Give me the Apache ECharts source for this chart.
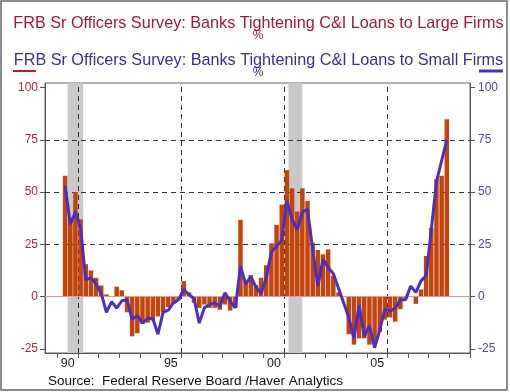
<!DOCTYPE html>
<html><head><meta charset="utf-8">
<script src="https://cdn.jsdelivr.net/npm/echarts@6/dist/echarts.min.js"></script>
<style>html,body{margin:0;padding:0;background:#fff}#c{width:510px;height:392px}</style>
</head><body><div id="c"></div>
<script>
// Quarterly data, 1990Q2 .. 2008Q4
const firstYear = 1990, firstQ = 2;
const largeFirms = [
  57.8, 37, 50, 37, 15.5, 12.5, 9, 5.3, 1, 0, 4.7, 3,
  -7.5, -19, -17.5, -13, -12.5, -11.5, -9.5, -7.5, -5, -3.5, -1.5,
  7.4, 2, -3, -5.4, -3.8, -5.4, -5.4, -6.3, -3.8, -6.7, -5.4,
  36.7, 7, 10.3, 5.5, 9, 15, 25.5, 34.3, 44,
  60.5, 51.8, 40.7, 51.8, 45.8, 25.8, 22.3, 20.2, 22.6, 10, 2, 0,
  -18, -23, -20, -20, -23, -22, -17, -11, -10, -12, -6, -1, 0, -3.5,
  3.4, 19.4, 32.8, 56.2, 57.8, 84.8
];
const smallFirms = [
  53, 34.6, 40.5, 33, 8, 9, 6, 1.5, -7.5, -2.5, -5.5, -2,
  -1.5, -11, -9, -12.7, -10.5, -10.5, -18, -7.5, -6.5, -3, -1.5,
  3.4, 1, -1, -12.7, -5.4, -3.8, -3, -4.6, 1.8, -2.2, -5.4,
  14.6, 6, 9.5, 4.5, 1.5, 9, 21.5, 24, 27,
  45.8, 37, 32, 40.5, 41.8, 22.6, 5, 17.8, 14, 11, 4, -3,
  -10, -20, -4.2, -19, -14, -24.5, -16, -6, -7, -5.5, -1.5, -1.5, 5, 2,
  7.5, 10, 32, 55, 65, 75
];
const yTickValues = [-25, 0, 25, 50, 75, 100];
const xTickYears = [1990,1991,1992,1993,1994,1995,1996,1997,1998,1999,2000,2001,2002,2003,2004,2005,2006,2007,2008,2009,2010];
const xLabelYears = [1990, 1995, 2000, 2005];
const gridYears = [1991, 1996, 2001, 2006];
const gridLevels = [25, 50, 75];
const recessions = [[1990.5, 1991.25], [2001.2, 2001.87]];

const titleLarge = 'FRB Sr Officers Survey: Banks Tightening C&I Loans to Large Firms';
const titleSmall = 'FRB Sr Officers Survey: Banks Tightening C&I Loans to Small Firms';
const sourceText = 'Source:  Federal Reserve Board /Haver Analytics';

const RED = '#a3192f', BLUE = '#3b2d9e', BAR = '#c4450c', LINE = '#4a2fc0';
const FONT = '"Liberation Sans", Arial, sans-serif';

function qx(i) {
  const q0 = (firstQ - 1) + i;
  return firstYear + Math.floor(q0 / 4) + (q0 % 4) / 4 + 0.125;
}
const barData = largeFirms.map((v, i) => [qx(i), v]);
const lineData = smallFirms.map((v, i) => [qx(i), v]);

const chart = echarts.init(document.getElementById('c'), null, {renderer: 'canvas'});
const yBase = {
  type: 'value', min: -27, max: 102.2,
  splitLine: {show: false},
  axisLine: {show: true, lineStyle: {color: '#555', width: 1}},
  axisTick: {show: true, length: 5, customValues: yTickValues, lineStyle: {color: '#555'}}
};
chart.setOption({
  animation: false,
  grid: {left: 45, right: 40, top: 83, bottom: 39, show: true, borderColor: '#666', borderWidth: 1, backgroundColor: 'transparent'},
  xAxis: {
    type: 'value', min: 1989.4, max: 2010,
    splitLine: {show: false},
    axisLine: {show: true, onZero: false, lineStyle: {color: '#555'}},
    axisTick: {show: true, length: 5, customValues: xTickYears, lineStyle: {color: '#555'}},
    axisLabel: {customValues: xLabelYears.map(y => y + 0.5), margin: 4, color: '#222', fontSize: 12.5, fontFamily: FONT,
      formatter: v => String(Math.floor(v)).slice(2)}
  },
  yAxis: [
    Object.assign({}, yBase, {position: 'left',
      axisLabel: {customValues: yTickValues, color: '#b02a36', fontSize: 12, fontFamily: FONT, margin: 7}}),
    Object.assign({}, yBase, {position: 'right',
      axisLabel: {customValues: yTickValues, color: '#5546a8', fontSize: 12, fontFamily: FONT, margin: 8}})
  ],
  series: [
    {
      type: 'bar', name: 'Large Firms', data: barData, yAxisIndex: 0,
      barWidth: 4.5, itemStyle: {color: BAR}, z: 2,
      markArea: {silent: true, z: 1, itemStyle: {color: '#c9c9c9'},
        data: recessions.map(r => [{xAxis: r[0]}, {xAxis: r[1]}])},
      markLine: {silent: true, z: 1, symbol: ['none', 'none'], label: {show: false},
        lineStyle: {color: '#333', type: [5, 4], width: 1},
        data: gridYears.map(y => ({xAxis: y})).concat(gridLevels.map(v => ({yAxis: v})))}
    },
    {
      type: 'line', name: 'Small Firms', data: lineData, yAxisIndex: 1,
      showSymbol: false, lineStyle: {color: LINE, width: 3}, itemStyle: {color: LINE}, z: 4,
      markLine: {silent: true, z: 3, symbol: ['none', 'none'], label: {show: false},
        lineStyle: {color: '#dc9a9a', type: 'solid', width: 1},
        data: [{yAxis: 0}]}
    }
  ],
  graphic: [
    {type: 'rect', shape: {x: 1, y: 1, width: 506, height: 389}, style: {fill: 'none', stroke: '#666', lineWidth: 1.5}, silent: true},
    {type: 'text', x: 258.5, y: 23.5, style: {text: titleLarge, fill: RED, font: '16.2px ' + FONT, textAlign: 'center', textVerticalAlign: 'middle'}},
    {type: 'text', x: 258, y: 35.5, style: {text: '%', fill: RED, font: '12px ' + FONT, textAlign: 'center', textVerticalAlign: 'middle'}},
    {type: 'text', x: 258.5, y: 60.5, style: {text: titleSmall, fill: BLUE, font: '16.2px ' + FONT, textAlign: 'center', textVerticalAlign: 'middle'}},
    {type: 'text', x: 258, y: 72.5, style: {text: '%', fill: BLUE, font: '12px ' + FONT, textAlign: 'center', textVerticalAlign: 'middle'}},
    {type: 'line', shape: {x1: 13, y1: 71, x2: 36, y2: 71}, style: {stroke: '#b02030', lineWidth: 2}},
    {type: 'line', shape: {x1: 479, y1: 71, x2: 503, y2: 71}, style: {stroke: LINE, lineWidth: 3}},
    {type: 'text', x: 48, y: 381, style: {text: sourceText, fill: '#111', font: '13.5px ' + FONT, textAlign: 'left', textVerticalAlign: 'middle'}}
  ]
});
</script></body></html>
